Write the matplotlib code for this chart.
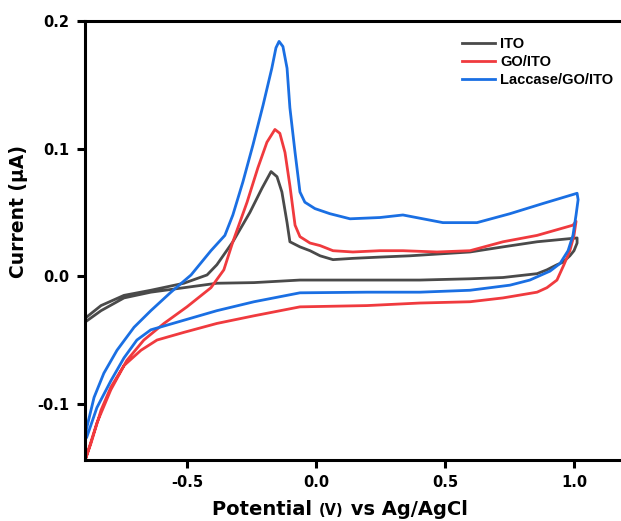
import matplotlib
matplotlib.use("Agg")
import matplotlib.pyplot as plt
from matplotlib.ticker import FormatStrFormatter
from matplotlib.offsetbox import TextArea, HPacker, AnchoredOffsetbox

# cyclic voltammograms, forward scan then reverse scan (V, uA)
ito_v = [-0.895, -0.833, -0.744, -0.640, -0.512, -0.422, -0.384, -0.322, -0.256,
         -0.209, -0.174, -0.151, -0.132, -0.112, -0.101, -0.062, -0.023, 0.016,
         0.066, 0.143, 0.248, 0.364, 0.597, 0.725, 0.857, 1.012,
         1.012, 1.000, 0.984, 0.957, 0.934, 0.895, 0.857, 0.725, 0.597, 0.403,
         0.198, -0.062, -0.240, -0.384, -0.512, -0.640, -0.744, -0.833, -0.895]
ito_i = [-0.033, -0.023, -0.015, -0.011, -0.0055, 0.001, 0.009, 0.027, 0.050,
         0.069, 0.082, 0.078, 0.066, 0.042, 0.027, 0.023, 0.020, 0.016,
         0.013, 0.014, 0.015, 0.016, 0.019, 0.023, 0.027, 0.030,
         0.026, 0.020, 0.016, 0.011, 0.009, 0.005, 0.002, -0.001, -0.002, -0.003,
         -0.003, -0.003, -0.005, -0.0055, -0.009, -0.0125, -0.017, -0.027, -0.036]

go_v = [-0.891, -0.849, -0.795, -0.733, -0.667, -0.589, -0.500, -0.407, -0.357,
        -0.322, -0.267, -0.225, -0.190, -0.159, -0.140, -0.120, -0.101, -0.081,
        -0.062, -0.023, 0.016, 0.066, 0.143, 0.248, 0.337, 0.469, 0.597, 0.725,
        0.857, 0.996, 1.008,
        1.000, 0.984, 0.961, 0.934, 0.895, 0.857, 0.725, 0.597, 0.403, 0.198,
        -0.062, -0.240, -0.384, -0.512, -0.616, -0.678, -0.744, -0.795, -0.833,
        -0.872, -0.891]
go_i = [-0.142, -0.115, -0.089, -0.066, -0.050, -0.037, -0.024, -0.009, 0.005,
        0.027, 0.058, 0.085, 0.105, 0.115, 0.112, 0.097, 0.071, 0.040,
        0.031, 0.026, 0.024, 0.020, 0.019, 0.020, 0.020, 0.019, 0.020, 0.027,
        0.032, 0.040, 0.043,
        0.032, 0.020, 0.009, -0.003, -0.009, -0.0125, -0.017, -0.020, -0.021, -0.023,
        -0.024, -0.031, -0.037, -0.044, -0.050, -0.058, -0.070, -0.087, -0.105,
        -0.131, -0.142]

lac_v = [-0.891, -0.860, -0.822, -0.771, -0.705, -0.640, -0.562, -0.484, -0.407,
         -0.353, -0.322, -0.283, -0.244, -0.205, -0.171, -0.155, -0.143, -0.128,
         -0.112, -0.101, -0.081, -0.062, -0.043, -0.004, 0.054, 0.132, 0.248,
         0.337, 0.492, 0.624, 0.752, 0.880, 1.012,
         1.016, 1.008, 0.996, 0.977, 0.946, 0.907, 0.829, 0.752, 0.597, 0.403,
         0.198, -0.062, -0.240, -0.384, -0.512, -0.640, -0.694, -0.744, -0.795,
         -0.849, -0.888]
lac_i = [-0.121, -0.095, -0.076, -0.058, -0.040, -0.027, -0.0125, 0.001, 0.020,
         0.032, 0.048, 0.074, 0.103, 0.134, 0.163, 0.179, 0.184, 0.180,
         0.163, 0.132, 0.097, 0.066, 0.058, 0.053, 0.049, 0.045, 0.046,
         0.048, 0.042, 0.042, 0.049, 0.057, 0.065,
         0.060, 0.048, 0.032, 0.020, 0.010, 0.004, -0.003, -0.007, -0.011, -0.0125,
         -0.0125, -0.013, -0.020, -0.027, -0.0345, -0.042, -0.050, -0.064, -0.082,
         -0.103, -0.126]

labels = ["ITO", "GO/ITO", "Laccase/GO/ITO"]
colors = ["#4a4a4a", "#f03a3e", "#1a6fe3"]

bold = dict(family="DejaVu Sans", weight="bold")

fig = plt.figure(figsize=(6.21, 5.21), dpi=100)
ax = fig.add_axes([0.1369, 0.1171, 0.8705, 0.8426])

for v, i, lab, c in zip([ito_v, go_v, lac_v], [ito_i, go_i, lac_i], labels, colors):
    ax.plot(v, i, color=c, lw=2.0, label=lab, solid_joinstyle="round")

ax.set_xlim(-0.895, 1.2)
ax.set_ylim(-0.144, 0.2)
ax.set_xticks([-0.5, 0.0, 0.5, 1.0])
ax.set_yticks([-0.1, 0.0, 0.1, 0.2])
ax.xaxis.set_major_formatter(FormatStrFormatter("%.1f"))
ax.yaxis.set_major_formatter(FormatStrFormatter("%.1f"))
ax.tick_params(direction="out", length=6, width=2.2, labelsize=10.5, pad=5)
for t in ax.get_xticklabels() + ax.get_yticklabels():
    t.set_fontfamily("DejaVu Sans")
    t.set_fontweight("bold")
for s in ax.spines.values():
    s.set_linewidth(2.2)

# x label with the unit set a little smaller
parts = [TextArea("Potential ", textprops=dict(size=14, **bold)),
         TextArea("(V)", textprops=dict(size=10.5, **bold)),
         TextArea(" vs Ag/AgCl", textprops=dict(size=14, **bold))]
xlab = AnchoredOffsetbox(loc="lower center",
                         child=HPacker(children=parts, align="baseline", pad=0, sep=0),
                         frameon=False, pad=0, borderpad=0,
                         bbox_to_anchor=(340 / 621, 2 / 521),
                         bbox_transform=fig.transFigure)
fig.add_artist(xlab)

fig.text(19 / 621, 1 - 212 / 521, "Current (\u03bcA)", rotation=90,
         ha="center", va="center", fontsize=13.5, **bold)

ax.legend(loc="upper left", bbox_to_anchor=(462 / 621, 1 - 37 / 521),
          bbox_transform=fig.transFigure, frameon=False,
          prop=dict(family="Liberation Sans", weight="bold", size=10.5),
          handlelength=2.26, handletextpad=0.35, labelspacing=0.28,
          borderpad=0, borderaxespad=0)

fig.savefig("out.png", dpi=100)
